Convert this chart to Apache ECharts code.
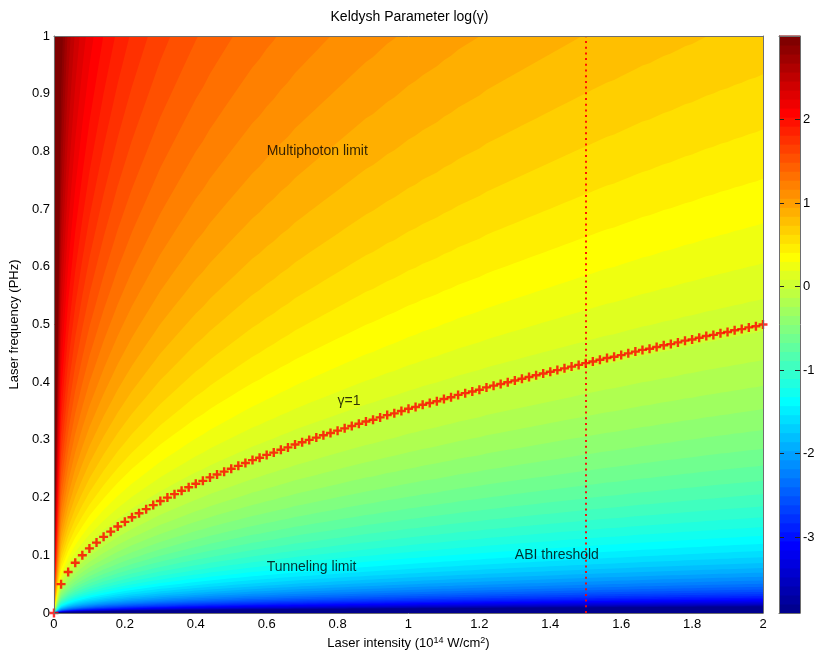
<!DOCTYPE html>
<html>
<head>
<meta charset="utf-8">
<title>Keldysh Parameter log(γ)</title>
<script src="https://cdn.jsdelivr.net/npm/echarts@6/dist/echarts.min.js"></script>
<style>
  html, body { margin: 0; padding: 0; background: #fff; }
  #chart { width: 819px; height: 658px; }
</style>
</head>
<body>
<div id="chart"></div>
<script>
// laser intensity (10^14 W/cm^2) of each red marker
const intensity = [
  0.00, 0.02, 0.04, 0.06, 0.08, 0.10, 0.12, 0.14, 0.16, 0.18,
  0.20, 0.22, 0.24, 0.26, 0.28, 0.30, 0.32, 0.34, 0.36, 0.38,
  0.40, 0.42, 0.44, 0.46, 0.48, 0.50, 0.52, 0.54, 0.56, 0.58,
  0.60, 0.62, 0.64, 0.66, 0.68, 0.70, 0.72, 0.74, 0.76, 0.78,
  0.80, 0.82, 0.84, 0.86, 0.88, 0.90, 0.92, 0.94, 0.96, 0.98,
  1.00, 1.02, 1.04, 1.06, 1.08, 1.10, 1.12, 1.14, 1.16, 1.18,
  1.20, 1.22, 1.24, 1.26, 1.28, 1.30, 1.32, 1.34, 1.36, 1.38,
  1.40, 1.42, 1.44, 1.46, 1.48, 1.50, 1.52, 1.54, 1.56, 1.58,
  1.60, 1.62, 1.64, 1.66, 1.68, 1.70, 1.72, 1.74, 1.76, 1.78,
  1.80, 1.82, 1.84, 1.86, 1.88, 1.90, 1.92, 1.94, 1.96, 1.98,
  2.00
];
// laser frequency (PHz) where gamma = 1 (the red + markers)
const gammaOneFreq = [
  0.000, 0.050, 0.071, 0.087, 0.100, 0.112, 0.122, 0.132, 0.141, 0.150,
  0.158, 0.166, 0.173, 0.180, 0.187, 0.194, 0.200, 0.206, 0.212, 0.218,
  0.224, 0.229, 0.235, 0.240, 0.245, 0.250, 0.255, 0.260, 0.265, 0.269,
  0.274, 0.278, 0.283, 0.287, 0.292, 0.296, 0.300, 0.304, 0.308, 0.312,
  0.316, 0.320, 0.324, 0.328, 0.332, 0.335, 0.339, 0.343, 0.346, 0.350,
  0.354, 0.357, 0.361, 0.364, 0.367, 0.371, 0.374, 0.378, 0.381, 0.384,
  0.387, 0.391, 0.394, 0.397, 0.400, 0.403, 0.406, 0.409, 0.412, 0.415,
  0.418, 0.421, 0.424, 0.427, 0.430, 0.433, 0.436, 0.439, 0.442, 0.444,
  0.447, 0.450, 0.453, 0.456, 0.458, 0.461, 0.464, 0.466, 0.469, 0.472,
  0.474, 0.477, 0.480, 0.482, 0.485, 0.487, 0.490, 0.492, 0.495, 0.497,
  0.500
];
// colour scale of log(gamma)
const colorMin = -3.91;
const colorMax = 3.0;
const colorTicks = [-3, -2, -1, 0, 1, 2];
const abiThreshold = 1.5;
// text labels inside the plot: [intensity, frequency, text]
const annotations = [
  [0.6, 0.80, 'Multiphoton limit'],
  [0.8, 0.367, 'γ=1'],
  [0.6, 0.08, 'Tunneling limit'],
  [1.3, 0.10, 'ABI threshold']
];

const FONT = 'Arial, "Liberation Sans", Helvetica, sans-serif';

// matlab jet colormap
function jet(n) {
  const m = Math.ceil(n / 4);
  const u = [];
  for (let i = 1; i <= m; i++) u.push(i / m);
  for (let i = 1; i < m; i++) u.push(1);
  for (let i = m; i >= 1; i--) u.push(i / m);
  const g0 = Math.ceil(m / 2) - (n % 4 === 1 ? 1 : 0);
  const pick = j => (j >= 1 && j <= u.length ? u[j - 1] : 0);
  const out = [];
  for (let i = 1; i <= n; i++) {
    const r = pick(i - g0 - m), g = pick(i - g0), b = pick(i - g0 + m);
    out.push('rgb(' + Math.round(r * 255) + ',' + Math.round(g * 255) + ',' + Math.round(b * 255) + ')');
  }
  return out;
}

const nBands = 64;
const colors = jet(nBands);
const step = (colorMax - colorMin) / nBands;

// filled contour bands: every band edge is the gamma = 1 curve scaled by exp(level)
const series = [];
for (let k = nBands - 1; k >= 1; k--) {
  const factor = Math.exp(colorMin + k * step);
  series.push({
    type: 'line',
    xAxisIndex: 0,
    yAxisIndex: 0,
    data: intensity.map((x, i) => [x, gammaOneFreq[i] * factor]),
    symbol: 'none',
    lineStyle: { width: 0 },
    areaStyle: { color: colors[k - 1], opacity: 1, origin: 'start' },
    silent: true,
    clip: true,
    z: 1
  });
}

// gamma = 1 markers and ABI threshold line
series.push({
  type: 'scatter',
  xAxisIndex: 0,
  yAxisIndex: 0,
  data: intensity.map((x, i) => [x, gammaOneFreq[i]]),
  symbol: 'path://M3.3,0H5.7V3.3H9V5.7H5.7V9H3.3V5.7H0V3.3H3.3Z',
  symbolSize: 9,
  itemStyle: { color: '#ff0000' },
  clip: false,
  silent: true,
  z: 4,
  markLine: {
    symbol: 'none',
    silent: true,
    label: { show: false },
    lineStyle: { color: '#ff0000', width: 2, type: [2, 3.7], opacity: 0.9 },
    data: [{ xAxis: abiThreshold }]
  }
});

// text labels
series.push({
  type: 'scatter',
  xAxisIndex: 0,
  yAxisIndex: 0,
  data: annotations,
  symbolSize: 0,
  silent: true,
  z: 5,
  label: {
    show: true,
    position: 'right',
    distance: 0,
    formatter: p => p.value[2],
    color: '#000',
    fontSize: 14,
    fontFamily: FONT
  }
});

// colour bar, its tick marks are one dashed line per tick (short mark on each edge)
series.push({
  type: 'custom',
  xAxisIndex: 2,
  yAxisIndex: 2,
  silent: true,
  z: 1,
  data: colors.map((c, k) => [colorMin + k * step, colorMin + (k + 1) * step]),
  renderItem: (params, api) => {
    const lo = api.coord([0, api.value(0)]);
    const hi = api.coord([1, api.value(1)]);
    return {
      type: 'rect',
      shape: { x: lo[0], y: hi[1] - 0.5, width: hi[0] - lo[0], height: lo[1] - hi[1] + 1 },
      style: { fill: colors[params.dataIndex] }
    };
  },
  markLine: {
    symbol: 'none',
    silent: true,
    label: { show: false },
    lineStyle: { color: '#222', width: 1, type: [5, 11], opacity: 1 },
    data: colorTicks.map(v => ({ yAxis: v }))
  }
});

const frame = { show: true, onZero: false, lineStyle: { color: '#6e6e6e', width: 1 } };
const labelStyle = { color: '#000', fontSize: 13, fontFamily: FONT };

const option = {
  animation: false,
  backgroundColor: '#fff',
  title: {
    text: 'Keldysh Parameter log(γ)',
    left: 'center',
    top: 10,
    padding: 0,
    textStyle: { color: '#000', fontSize: 14, fontWeight: 'normal', fontFamily: FONT }
  },
  grid: [
    { left: 53, top: 36, width: 710, height: 577, show: true, borderWidth: 0, backgroundColor: colors[nBands - 1] },
    { left: 779, top: 36, width: 21, height: 577 }
  ],
  xAxis: [
    {
      type: 'value', gridIndex: 0, min: 0, max: 2, interval: 0.2, z: 5,
      axisLine: frame, axisTick: { show: false }, splitLine: { show: false },
      axisLabel: Object.assign({ margin: 5 }, labelStyle),
      name: 'Laser intensity (10{sup|14} W/cm{sup|2})',
      nameLocation: 'middle',
      nameGap: 20,
      nameTextStyle: {
        color: '#000', fontSize: 13, fontFamily: FONT, lineHeight: 16,
        rich: { sup: { fontSize: 9, lineHeight: 9, verticalAlign: 'top', fontFamily: FONT, color: '#000' } }
      }
    },
    {
      type: 'value', gridIndex: 0, min: 0, max: 2, position: 'top', z: 5,
      axisLine: frame, axisTick: { show: false }, axisLabel: { show: false }, splitLine: { show: false }
    },
    {
      type: 'value', gridIndex: 1, min: 0, max: 1, position: 'bottom', z: 5,
      axisLine: frame, axisTick: { show: false }, axisLabel: { show: false }, splitLine: { show: false }
    },
    {
      type: 'value', gridIndex: 1, min: 0, max: 1, position: 'top', z: 5,
      axisLine: frame, axisTick: { show: false }, axisLabel: { show: false }, splitLine: { show: false }
    }
  ],
  yAxis: [
    {
      type: 'value', gridIndex: 0, min: 0, max: 1, interval: 0.1, z: 5,
      axisLine: frame, axisTick: { show: false }, splitLine: { show: false },
      axisLabel: Object.assign({ margin: 4 }, labelStyle),
      name: 'Laser frequency (PHz)',
      nameLocation: 'middle',
      nameGap: 25,
      nameTextStyle: { color: '#000', fontSize: 13, fontFamily: FONT }
    },
    {
      type: 'value', gridIndex: 0, min: 0, max: 1, position: 'right', z: 5,
      axisLine: frame, axisTick: { show: false }, axisLabel: { show: false }, splitLine: { show: false }
    },
    {
      type: 'value', gridIndex: 1, min: colorMin, max: colorMax, position: 'right', z: 5,
      axisLine: frame, splitLine: { show: false }, axisTick: { show: false },
      axisLabel: Object.assign({ margin: 3, customValues: colorTicks }, labelStyle)
    },
    {
      type: 'value', gridIndex: 1, min: colorMin, max: colorMax, position: 'left', z: 5,
      axisLine: frame, axisTick: { show: false }, axisLabel: { show: false }, splitLine: { show: false }
    }
  ],
  series: series
};

const chart = echarts.init(document.getElementById('chart'), null, { renderer: 'canvas' });
chart.setOption(option);
</script>
</body>
</html>
